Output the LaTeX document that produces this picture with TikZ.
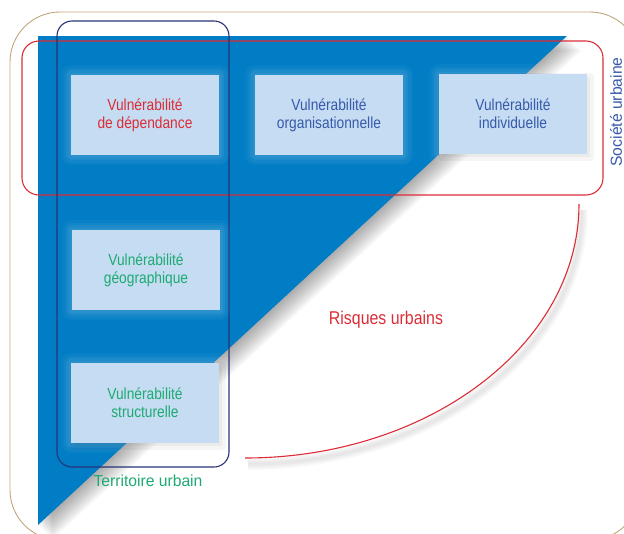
\documentclass[tikz,border=0pt]{standalone}
\usepackage{fontspec}
\newfontfamily\condfont{Liberation Sans}[FakeStretch=0.86]
\newfontfamily\framefont{Liberation Sans}[FakeStretch=0.98]
\usetikzlibrary{positioning}
\definecolor{triblue}{RGB}{0,125,196}
\definecolor{boxfill}{RGB}{197,220,242}
\definecolor{riskred}{RGB}{220,45,55}
\definecolor{terrnavy}{RGB}{40,50,120}
\definecolor{terrgreen}{RGB}{30,170,115}
\definecolor{socblue}{RGB}{55,90,170}
\definecolor{outertan}{RGB}{195,165,125}
\tikzset{
    vulnbox/.style = {rectangle, fill=boxfill, minimum width=148pt, minimum height=80pt,
        inner sep=2pt, align=center, font=\condfont\fontsize{16}{18}\selectfont,
        preaction={draw=white, opacity=0.035, line width=20pt, line join=round},
        preaction={draw=white, opacity=0.04, line width=15pt, line join=round},
        preaction={draw=white, opacity=0.05, line width=10pt, line join=round},
        preaction={draw=white, opacity=0.06, line width=5pt, line join=round}},
    shadowed/.style = {preaction={draw=black, fill=black, opacity=0.04, line width=8pt,
        line join=round, transform canvas={xshift=3pt, yshift=-3pt}}},
    framelabel/.style = {inner sep=0pt, font=\framefont\fontsize{16}{18}\selectfont},
    frameline/.style = {line width=1.1pt}}

\begin{document}
\begin{tikzpicture}[x=1pt, y=-1pt]
        \useasboundingbox (0,0) rectangle (624,533);
        \begin{scope}
        \clip (0,0) rectangle (624,533);
        % outer frame
        \draw[outertan, line width=0.9pt, rounded corners=50pt] (10,12) rectangle (640,540);
        % triangle and its shadow
        \foreach \s in {1,...,12}
            \fill[black, opacity=0.03] (38+1.2*\s,36+1.2*\s) -- (567+1.2*\s,36+1.2*\s) -- (38+1.2*\s,525+1.2*\s) -- cycle;
        \fill[triblue] (38,36) -- (567,36) -- (38,525) -- cycle;
        \end{scope}
        % frames
        \draw[frameline, riskred, rounded corners=17pt] (22,41) rectangle (603,195);
        \draw[frameline, terrnavy, rounded corners=15pt] (57,21) rectangle (229,467);
        % boxes
        \node[vulnbox, text=riskred] (dep) at (145,115) {Vuln\'erabilit\'e\\de d\'ependance};
        \node[vulnbox, text=socblue] (org) at (329,115) {Vuln\'erabilit\'e\\organisationnelle};
        \node[vulnbox, shadowed, text=socblue] (ind) at (513,114) {Vuln\'erabilit\'e\\individuelle};
        \node[vulnbox, text=terrgreen] (geo) at (146,270) {Vuln\'erabilit\'e\\g\'eographique};
        \node[vulnbox, shadowed, text=terrgreen] (struct) at (145,403) {Vuln\'erabilit\'e\\structurelle};
        % labels
        \node[framelabel, text=terrgreen, anchor=base] (terr) at (148,486) {Territoire urbain};
        \node[framelabel, text=socblue, rotate=90] (soc) at (616,112) {Soci\'et\'e urbaine};
        \node[inner sep=0pt, text=riskred, anchor=base, font=\condfont\fontsize{18.5}{20}\selectfont] (risk) at (386,324) {Risques urbains};
        % risk arc
        \coordinate (arcTop) at (579,204);
        \coordinate (arcEnd) at (245,458);
        \begin{scope}[transform canvas={xshift=3pt, yshift=-6pt}]
            \foreach \w in {3,6,9,12}
                \draw[black, opacity=0.025, line width=\w pt] (arcTop) .. controls +(0,140) and +(184,0) .. (arcEnd);
        \end{scope}
        \draw[riskred, line width=1.1pt] (arcTop) .. controls +(0,140) and +(184,0) .. (arcEnd);
    \end{tikzpicture}
\end{document}
